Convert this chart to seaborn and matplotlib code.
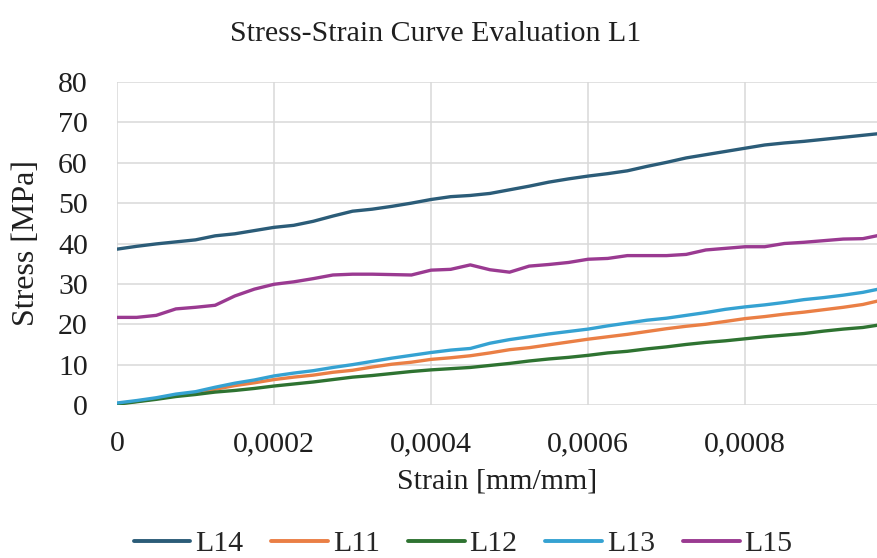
import matplotlib
matplotlib.use("Agg")
import matplotlib.pyplot as plt
import pandas as pd
import seaborn as sns

# ---- data ----
strain = [0.0, 0.000025, 0.00005, 0.000075, 0.0001, 0.000125, 0.00015, 0.000175,
          0.0002, 0.000225, 0.00025, 0.000275, 0.0003, 0.000325, 0.00035, 0.000375,
          0.0004, 0.000425, 0.00045, 0.000475, 0.0005, 0.000525, 0.00055, 0.000575,
          0.0006, 0.000625, 0.00065, 0.000675, 0.0007, 0.000725, 0.00075, 0.000775,
          0.0008, 0.000825, 0.00085, 0.000875, 0.0009, 0.000925, 0.00095, 0.00097]

L14 = [38.6, 39.3, 39.9, 40.4, 40.9, 41.9, 42.4, 43.2, 44.0, 44.5,
       45.5, 46.8, 48.0, 48.5, 49.2, 50.0, 50.9, 51.6, 51.9, 52.4,
       53.3, 54.2, 55.2, 56.0, 56.7, 57.3, 58.0, 59.1, 60.1, 61.2,
       62.0, 62.8, 63.6, 64.4, 64.9, 65.3, 65.8, 66.3, 66.8, 67.2]
L11 = [0.3, 0.9, 1.6, 2.4, 3.0, 3.9, 4.8, 5.5, 6.3, 6.9,
       7.4, 8.1, 8.6, 9.4, 10.1, 10.6, 11.3, 11.7, 12.2, 12.9,
       13.7, 14.2, 14.9, 15.6, 16.3, 16.9, 17.5, 18.2, 18.9, 19.5,
       20.0, 20.7, 21.4, 21.9, 22.5, 23.0, 23.6, 24.2, 24.9, 25.8]
L12 = [0.2, 0.8, 1.4, 2.1, 2.6, 3.2, 3.6, 4.1, 4.7, 5.2,
       5.7, 6.3, 6.9, 7.3, 7.8, 8.3, 8.7, 9.0, 9.3, 9.8,
       10.3, 10.9, 11.4, 11.8, 12.3, 12.9, 13.3, 13.9, 14.4, 15.0,
       15.5, 15.9, 16.4, 16.9, 17.3, 17.7, 18.3, 18.8, 19.2, 19.8]
L13 = [0.5, 1.1, 1.8, 2.7, 3.3, 4.4, 5.4, 6.2, 7.2, 7.9,
       8.5, 9.3, 10.0, 10.8, 11.6, 12.3, 13.0, 13.6, 14.0, 15.3,
       16.2, 16.9, 17.6, 18.2, 18.8, 19.6, 20.3, 21.0, 21.5, 22.2,
       22.9, 23.7, 24.3, 24.8, 25.4, 26.1, 26.6, 27.2, 27.9, 28.7]
L15 = [21.7, 21.7, 22.2, 23.8, 24.2, 24.7, 27.0, 28.7, 29.9, 30.5,
       31.3, 32.2, 32.4, 32.4, 32.3, 32.2, 33.4, 33.6, 34.7, 33.5,
       32.9, 34.4, 34.8, 35.3, 36.1, 36.3, 37.0, 37.0, 37.0, 37.3,
       38.4, 38.8, 39.2, 39.2, 40.0, 40.3, 40.7, 41.1, 41.2, 42.0]

series_names = ["L14", "L11", "L12", "L13", "L15"]
series_values = [L14, L11, L12, L13, L15]
colors = ["#2B5C78", "#EA7F45", "#2E7331", "#35A2D2", "#9A3A91"]

x_ticks = [0.0, 0.0002, 0.0004, 0.0006, 0.0008]
x_tick_labels = ["0", "0,0002", "0,0004", "0,0006", "0,0008"]
y_ticks = [0, 10, 20, 30, 40, 50, 60, 70, 80]

title = "Stress-Strain Curve Evaluation L1"
x_label = "Strain [mm/mm]"
y_label = "Stress [MPa]"

# ---- build long-form table ----
rows = []
for name, vals in zip(series_names, series_values):
    for s, v in zip(strain, vals):
        rows.append({"Strain": s, "Stress": v, "Specimen": name})
df = pd.DataFrame(rows)

# ---- style ----
sns.set_theme(style="whitegrid")
plt.rcParams["font.family"] = ["Liberation Serif", "DejaVu Serif"]
FS = 21.5
TXT = "#1F1F1F"

fig = plt.figure(figsize=(8.77, 5.58), dpi=100)
ax_bottom = 1 - 405 / 558
ax_height = (405 - 82) / 558
ax = fig.add_axes([117 / 877, ax_bottom, 1 - 117 / 877, ax_height])

sns.lineplot(data=df, x="Strain", y="Stress", hue="Specimen",
             hue_order=series_names, palette=colors, linewidth=2.4,
             ax=ax, legend=False, sort=False)

ax.set_xlim(0, 0.000968)
ax.set_ylim(0, 80)
ax.set_xticks(x_ticks)
ax.set_xticklabels(x_tick_labels)
ax.set_yticks(y_ticks)
ax.tick_params(axis="both", length=0, labelsize=FS, colors=TXT)
ax.tick_params(axis="x", pad=19)
ax.tick_params(axis="y", pad=21)

ax.grid(True, color="#D9D9D9", linewidth=1.1)
ax.set_axisbelow(True)
for side in ["top", "right", "left", "bottom"]:
    ax.spines[side].set_visible(False)
ax.set_facecolor("white")

ax.set_xlabel(x_label, fontsize=FS, color=TXT, labelpad=8)
ax.set_ylabel(y_label, fontsize=23, color=TXT, labelpad=12)

fig.text(0.497, 1 - 34 / 558, title, ha="center", va="center",
         fontsize=FS, color=TXT)

# legend centred at x ~ 463 px, y ~ 544 px
leg_x = (463 - 117) / (877 - 117)
leg_y = ((1 - 544 / 558) - ax_bottom) / ax_height
handles = [plt.Line2D([], [], color=c, linewidth=2.8) for c in colors]
ax.legend(handles, series_names, loc="center",
          bbox_to_anchor=(leg_x, leg_y),
          ncol=5, frameon=False, fontsize=FS, handlelength=1.9,
          handletextpad=0.15, columnspacing=0.95)

fig.savefig("out.png", dpi=100)
